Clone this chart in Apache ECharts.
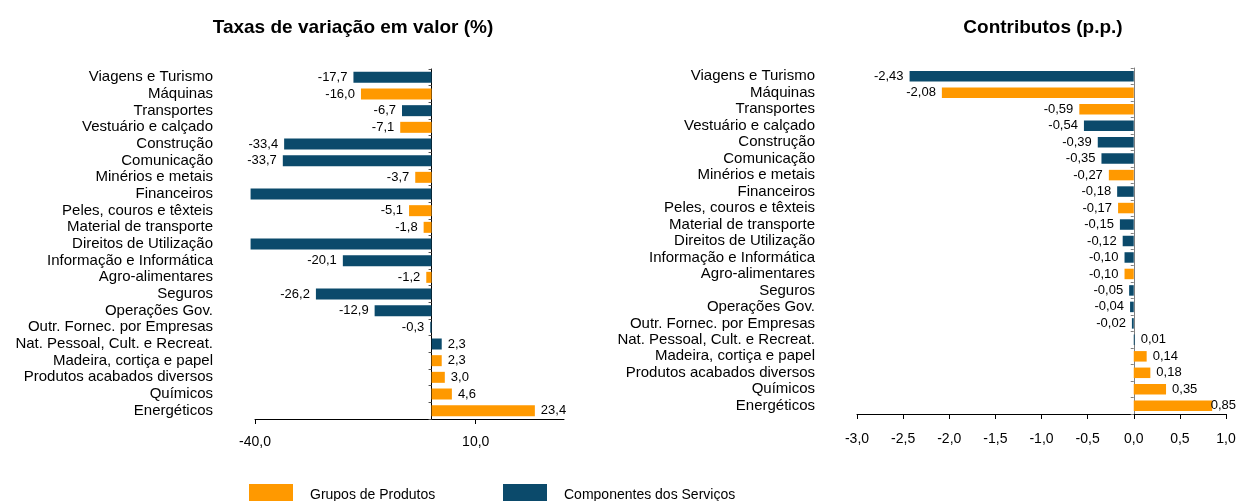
<!DOCTYPE html>
<html>
<head>
    <meta charset="utf-8">
    <title>ECharts</title>
    <script src="https://cdn.jsdelivr.net/npm/echarts@6/dist/echarts.min.js"></script>
</head>
<body style="margin:0">
    <div id="main" style="width:1236px;height:501px;"></div>
    <script type="text/javascript">

// categories, top to bottom
var categories = [
    'Viagens e Turismo', 'Máquinas', 'Transportes', 'Vestuário e calçado',
    'Construção', 'Comunicação', 'Minérios e metais', 'Financeiros',
    'Peles, couros e têxteis', 'Material de transporte', 'Direitos de Utilização',
    'Informação e Informática', 'Agro-alimentares', 'Seguros', 'Operações Gov.',
    'Outr. Fornec. por Empresas', 'Nat. Pessoal, Cult. e Recreat.',
    'Madeira, cortiça e papel', 'Produtos acabados diversos', 'Químicos', 'Energéticos'
];

// taxas de variação (%) ; P = produtos, S = serviços
// Financeiros and Direitos run past the -40 axis end (no label shown)
var taxaValues = [-17.7, -16.0, -6.7, -7.1, -33.4, -33.7, -3.7, -41, -5.1, -1.8, -41,
                  -20.1, -1.2, -26.2, -12.9, -0.3, 2.3, 2.3, 3.0, 4.6, 23.4];
var taxaTypes  = ['S', 'P', 'S', 'P', 'S', 'S', 'P', 'S', 'P', 'P', 'S',
                  'S', 'P', 'S', 'S', 'S', 'S', 'P', 'P', 'P', 'P'];

// contributos (p.p.)
var contribValues = [-2.43, -2.08, -0.59, -0.54, -0.39, -0.35, -0.27, -0.18, -0.17, -0.15, -0.12,
                     -0.10, -0.10, -0.05, -0.04, -0.02, 0.01, 0.14, 0.18, 0.35, 0.85];
var contribTypes  = ['S', 'P', 'P', 'S', 'S', 'S', 'P', 'S', 'P', 'S', 'S',
                     'S', 'P', 'S', 'S', 'S', 'S', 'P', 'P', 'P', 'P'];

var leftTicks = [-40, 10];

var ORANGE = '#FF9900';
var BLUE = '#0B4A6B';
var NAME_P = 'Grupos de Produtos';
var NAME_S = 'Componentes dos Serviços';

function comma(v, d) {
    return v.toFixed(d).replace('.', ',');
}

function pick(values, types, t, dist) {
    return values.map(function (v, i) {
        if (types[i] !== t) return null;
        return {value: v, label: {position: v < 0 ? 'left' : 'right', distance: dist}};
    });
}

// keep the last label (0,85) inside the canvas, like Excel does
function keepInside(params) {
    var r = params.labelRect;
    if (r.x + r.width > 1236) {
        return {
            x: 1236 - r.width,
            y: r.y + r.height / 2,
            align: 'left',
            verticalAlign: 'middle'
        };
    }
}

var myChart = echarts.init(document.getElementById('main'));

function barSeries(name, color, values, types, t, axis, decimals, width) {
    return {
        name: name,
        type: 'bar',
        xAxisIndex: axis,
        yAxisIndex: axis * 2,
        data: pick(values, types, t, 6),
        barWidth: width,
        barGap: '-100%',
        clip: false,
        itemStyle: {color: color},
        label: {
            show: true,
            color: '#000',
            fontSize: 13,
            fontFamily: 'Liberation Sans',
            formatter: function (p) {
                if (axis === 0 && p.value < -40) return '';
                return comma(p.value, decimals);
            }
        },
        labelLayout: keepInside
    };
}

function catAxis(grid) {
    return {
        gridIndex: grid,
        type: 'category',
        position: 'left',
        data: categories,
        inverse: true,
        axisLine: {show: false, onZero: false},
        axisTick: {show: false},
        axisLabel: {interval: 0, margin: 42, color: '#000', fontSize: 15, fontFamily: 'Liberation Sans'}
    };
}

function zeroAxis(grid, color, tickColor) {
    return {
        gridIndex: grid,
        type: 'category',
        position: 'left',
        data: categories,
        inverse: true,
        axisLine: {show: true, onZero: true, lineStyle: {color: color}},
        axisTick: {show: true, interval: 0, length: 3, lineStyle: {color: tickColor}},
        axisLabel: {show: false}
    };
}

var legendText = {fontSize: 14, fontFamily: 'Liberation Sans', color: '#000', padding: [0, 0, 0, 12]};

var option = {
    animation: false,
    textStyle: {fontFamily: 'Liberation Sans'},
    title: [{
        text: 'Taxas de variação em valor (%)',
        left: 348,
        top: 13,
        textAlign: 'center',
        textStyle: {fontSize: 19, fontWeight: 'bold', color: '#000'}
    }, {
        text: 'Contributos (p.p.)',
        left: 1038,
        top: 13,
        textAlign: 'center',
        textStyle: {fontSize: 19, fontWeight: 'bold', color: '#000'}
    }],
    legend: [{
        data: [NAME_P],
        left: 249,
        top: 484,
        padding: 0,
        itemWidth: 44,
        itemHeight: 22,
        icon: 'rect',
        textStyle: legendText
    }, {
        data: [NAME_S],
        left: 503,
        top: 484,
        padding: 0,
        itemWidth: 44,
        itemHeight: 22,
        icon: 'rect',
        textStyle: legendText
    }],
    grid: [
        {left: 255, right: 672, top: 69, bottom: 82, outerBoundsMode: 'none'},
        {left: 857, right: 10, top: 68, bottom: 87, outerBoundsMode: 'none'}
    ],
    xAxis: [{
        gridIndex: 0,
        type: 'value',
        min: -40,
        max: 30,
        splitLine: {show: false},
        axisLine: {show: true, onZero: false, lineStyle: {color: '#000'}},
        axisTick: {show: true, customValues: leftTicks, length: 5, lineStyle: {color: '#000'}},
        axisLabel: {customValues: leftTicks, margin: 16, color: '#000', fontSize: 14,
            formatter: function (v) { return comma(v, 1); }}
    }, {
        gridIndex: 1,
        type: 'value',
        min: -3,
        max: 1,
        interval: 0.5,
        splitLine: {show: false},
        axisLine: {show: true, onZero: false, lineStyle: {color: '#000'}},
        axisTick: {show: true, length: 5, lineStyle: {color: '#000'}},
        axisLabel: {margin: 18, color: '#000', fontSize: 14,
            formatter: function (v) { return comma(v, 1); }}
    }],
    yAxis: [
        zeroAxis(0, '#000', '#555'),
        catAxis(0),
        zeroAxis(1, '#808080', '#808080'),
        catAxis(1)
    ],
    series: [
        barSeries(NAME_P, ORANGE, taxaValues, taxaTypes, 'P', 0, 1, 11),
        barSeries(NAME_S, BLUE, taxaValues, taxaTypes, 'S', 0, 1, 11),
        barSeries(NAME_P, ORANGE, contribValues, contribTypes, 'P', 1, 2, 10.5),
        barSeries(NAME_S, BLUE, contribValues, contribTypes, 'S', 1, 2, 10.5)
    ]
};

myChart.setOption(option);

    </script>
</body>
</html>
